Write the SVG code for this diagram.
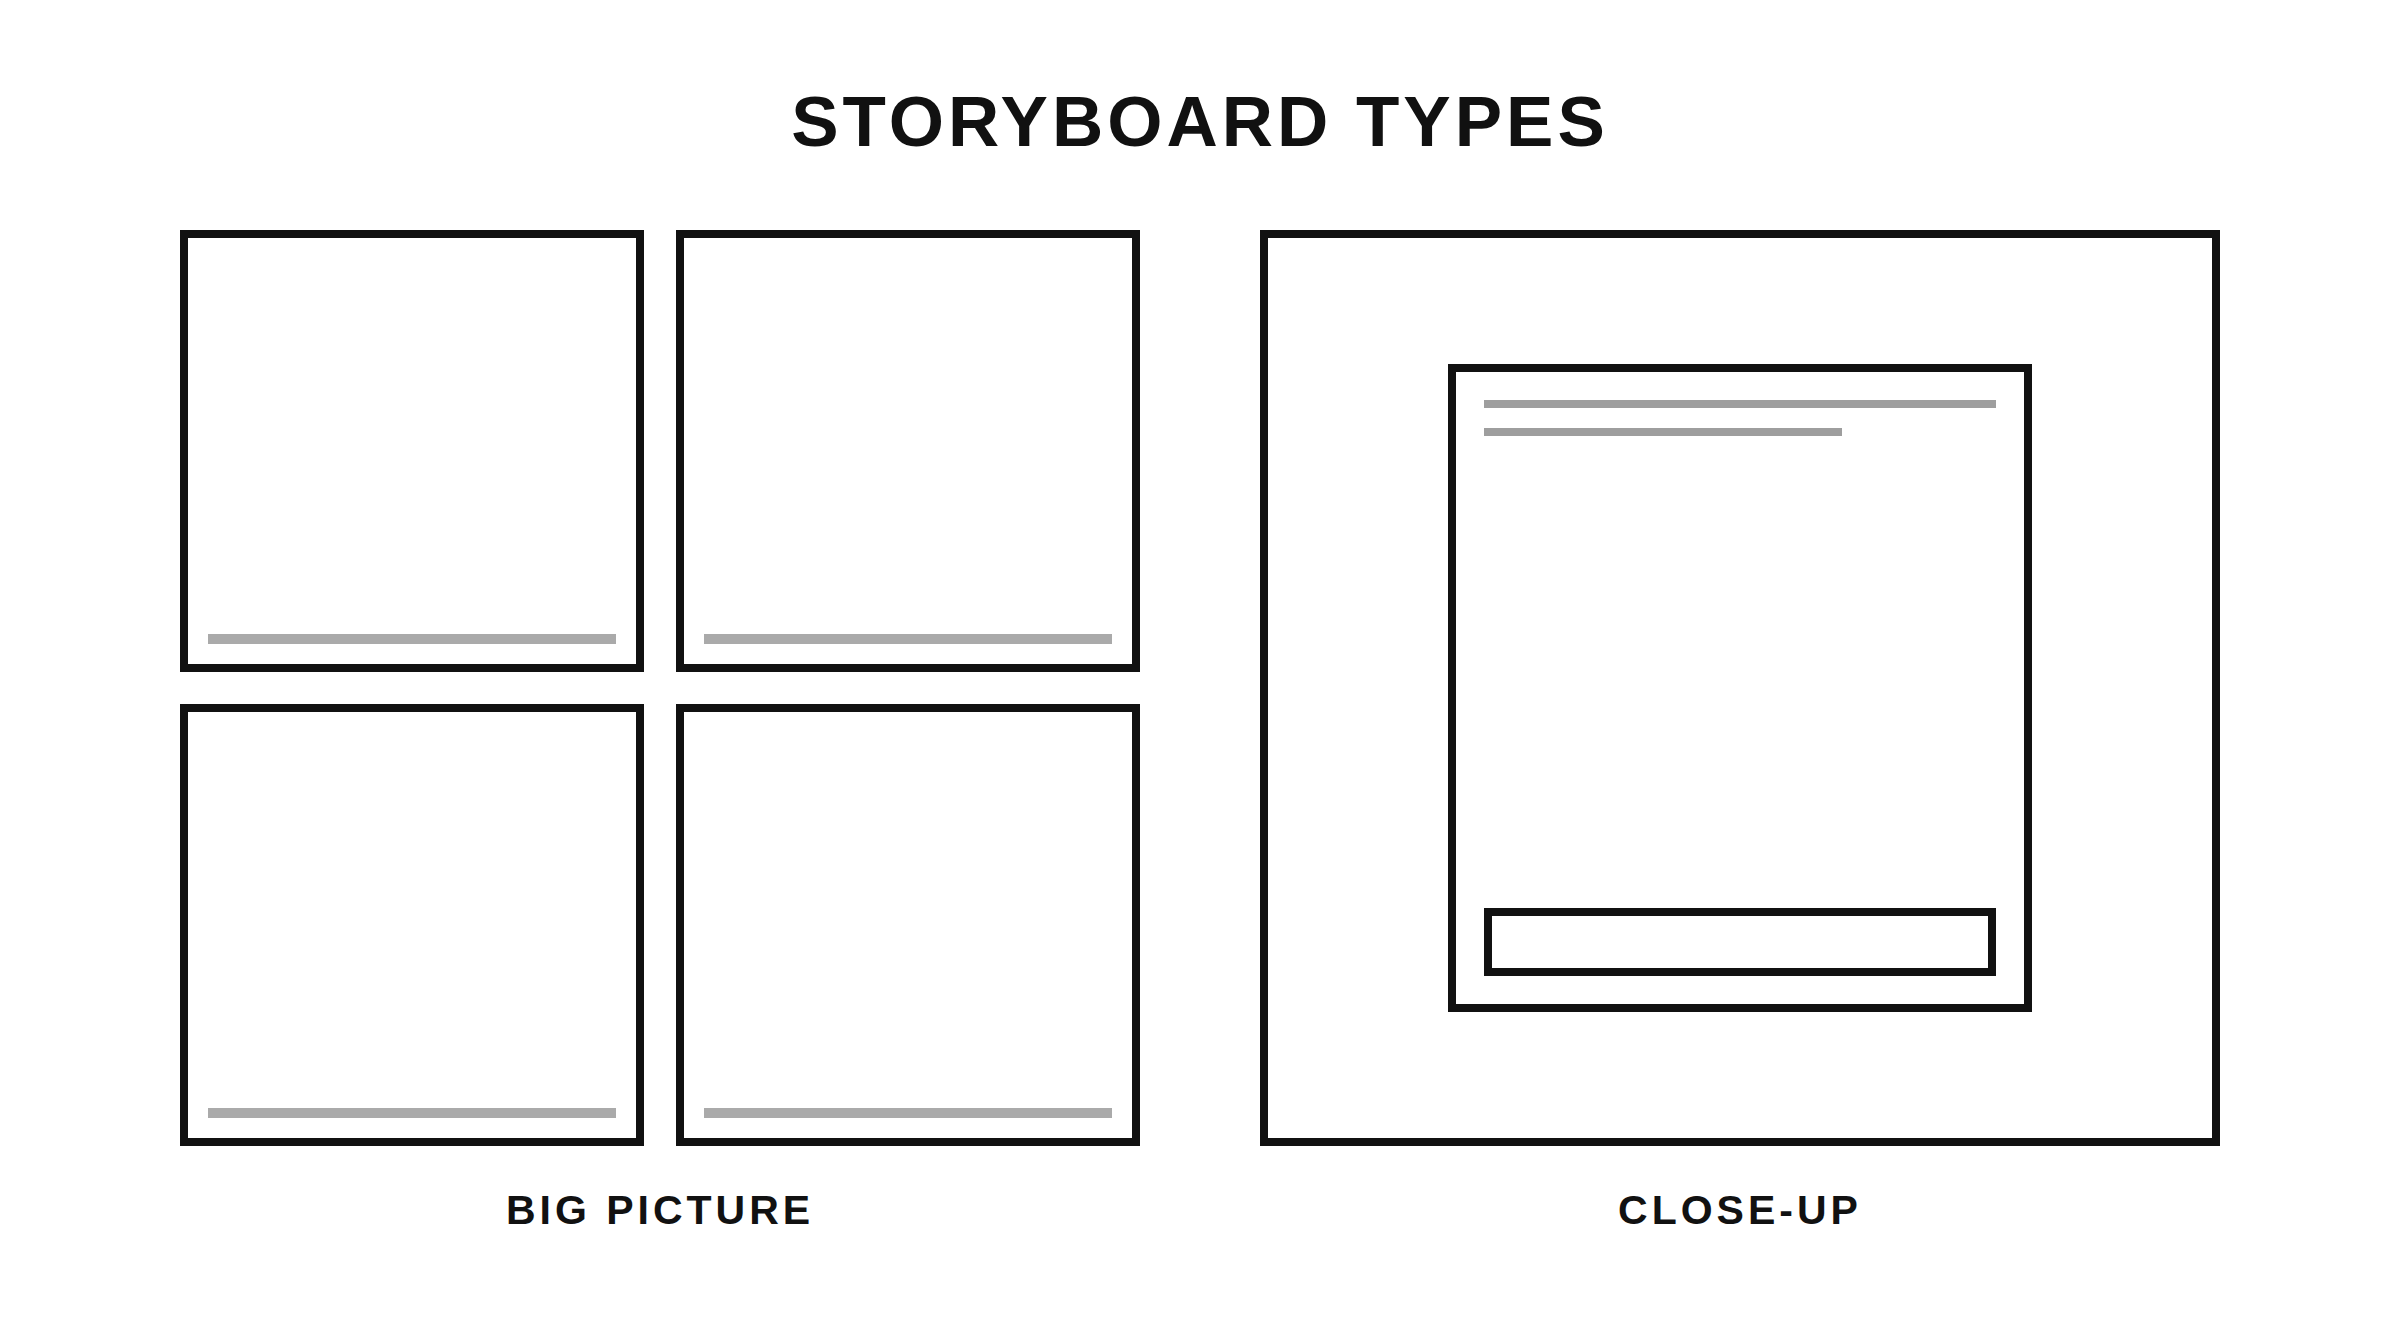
<svg xmlns="http://www.w3.org/2000/svg" width="2400" height="1330" viewBox="0 0 2400 1330">
  <style>
    .frame { fill: #ffffff; stroke: #111111; stroke-width: 8; }
    .bar { fill: #aaaaaa; }
    .line { fill: #9e9e9e; }
    .title { font-family: "Liberation Sans", Arial, sans-serif; font-weight: bold; font-size: 71px; letter-spacing: 4px; fill: #111111; text-anchor: middle; }
    .label { font-family: "Liberation Sans", Arial, sans-serif; font-weight: bold; font-size: 41px; letter-spacing: 4px; fill: #111111; text-anchor: middle; }
  </style>
  <rect width="2400" height="1330" fill="#ffffff"/>
  <text id="title" class="title" x="1200" y="146">STORYBOARD TYPES</text>

  <g id="big-picture">
    <g id="panel-1">
      <rect class="frame" x="184" y="234" width="456" height="434"/>
      <rect class="bar" x="208" y="634" width="408" height="10"/>
    </g>
    <g id="panel-2">
      <rect class="frame" x="680" y="234" width="456" height="434"/>
      <rect class="bar" x="704" y="634" width="408" height="10"/>
    </g>
    <g id="panel-3">
      <rect class="frame" x="184" y="708" width="456" height="434"/>
      <rect class="bar" x="208" y="1108" width="408" height="10"/>
    </g>
    <g id="panel-4">
      <rect class="frame" x="680" y="708" width="456" height="434"/>
      <rect class="bar" x="704" y="1108" width="408" height="10"/>
    </g>
    <text id="label-big-picture" class="label" x="660" y="1224">BIG PICTURE</text>
  </g>

  <g id="close-up">
    <rect id="close-up-outer" class="frame" x="1264" y="234" width="952" height="908"/>
    <g id="close-up-inner">
      <rect class="frame" x="1452" y="368" width="576" height="640"/>
      <rect class="line" x="1484" y="400" width="512" height="8"/>
      <rect class="line" x="1484" y="428" width="358" height="8"/>
      <rect id="close-up-caption" class="frame" x="1488" y="912" width="504" height="60"/>
    </g>
    <text id="label-close-up" class="label" x="1740" y="1224">CLOSE-UP</text>
  </g>

  <g id="connectors"/>
</svg>
